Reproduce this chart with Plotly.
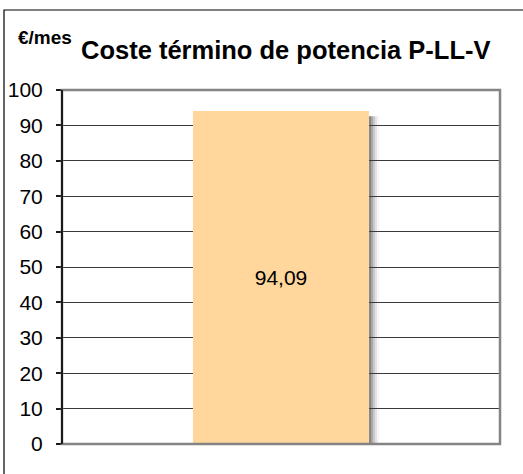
import plotly.graph_objects as go

categories = ["P-LL-V"]
values = [94.09]
y_ticks = [0, 10, 20, 30, 40, 50, 60, 70, 80, 90, 100]
title_unit = "€/mes"
title_text = "Coste término de potencia P-LL-V"

W, H = 523, 474
L, R, T, B = 62, 23, 90, 30
pw = W - L - R
ph = H - T - B

bar_width = 0.402

fig = go.Figure()
fig.add_trace(go.Bar(
    x=[0], y=values, width=bar_width,
    marker=dict(color="#FFD69C", line=dict(width=0)),
    text=values, texttemplate="%{y:.2f}",
    textposition="inside", insidetextanchor="middle",
    textfont=dict(family="Liberation Sans, Arial", size=21, color="#000000"),
    hoverinfo="skip",
))

shapes = []
# bar shadow (decorative), derived from bar geometry and data
px_unit = 1.0 / pw
for i, op in enumerate([0.22, 0.16, 0.11, 0.07, 0.04]):
    x0 = bar_width / 2
    x1 = x0 + (2 * (i + 1)) * px_unit
    shapes.append(dict(type="rect", xref="x", yref="y", x0=x0, x1=x1,
                       y0=0, y1=values[0] - 1.5, fillcolor="#000000",
                       opacity=op, line=dict(width=0), layer="below"))
# plot area border
shapes.append(dict(type="rect", xref="paper", yref="paper", x0=0, x1=1, y0=0, y1=1,
                   line=dict(color="#848484", width=2.5), layer="above"))
# left axis line
shapes.append(dict(type="line", xref="paper", yref="paper", x0=0, x1=0, y0=0, y1=1,
                   line=dict(color="#1A1A1A", width=2), layer="above"))
# outer chart frame (top and left visible)
fx = (4 - L) / pw
fy_top = (H - B - 10) / ph
fy_bot = (H - B - 480) / ph
fx_r = (W + 10 - L) / pw
shapes.append(dict(type="path", xref="paper", yref="paper",
                   path=f"M {fx} {fy_bot} L {fx} {fy_top} L {fx_r} {fy_top}",
                   line=dict(color="#000000", width=1.2)))

annotations = [
    dict(xref="paper", yref="paper", x=(16 - L) / pw, y=(H - B - 37) / ph,
         xanchor="left", yanchor="middle", showarrow=False,
         text=f"<b>{title_unit}</b>",
         font=dict(family="Liberation Sans, Arial", size=19, color="#000000")),
    dict(xref="paper", yref="paper", x=(79 - L) / pw, y=(H - B - 50) / ph,
         xanchor="left", yanchor="middle", showarrow=False,
         text=f"<b>{title_text}</b>",
         font=dict(family="Liberation Sans, Arial", size=25.5, color="#000000")),
]

fig.update_layout(
    width=W, height=H,
    autosize=False,
    margin=dict(l=L, r=R, t=T, b=B, pad=0, autoexpand=False),
    paper_bgcolor="#FFFFFF", plot_bgcolor="#FFFFFF",
    separators=",.",
    showlegend=False,
    shapes=shapes,
    annotations=annotations,
    xaxis=dict(range=[-0.5, 0.5], showticklabels=False, showgrid=False,
               zeroline=False, showline=False, ticks="", automargin=False),
    yaxis=dict(range=[0, 100], tickvals=y_ticks, ticktext=[str(v) for v in y_ticks],
               showgrid=True, gridcolor="#3A3A3A", gridwidth=1,
               zeroline=False, showline=False, automargin=False,
               ticks="outside", ticklen=5, tickcolor="#1A1A1A", tickwidth=1.5,
               ticklabelstandoff=9,
               tickfont=dict(family="Liberation Sans, Arial", size=21, color="#000000")),
)

fig.write_html("out.html", config={"displayModeBar": False},
               post_script="document.body.style.margin='0';document.body.style.padding='0';")
